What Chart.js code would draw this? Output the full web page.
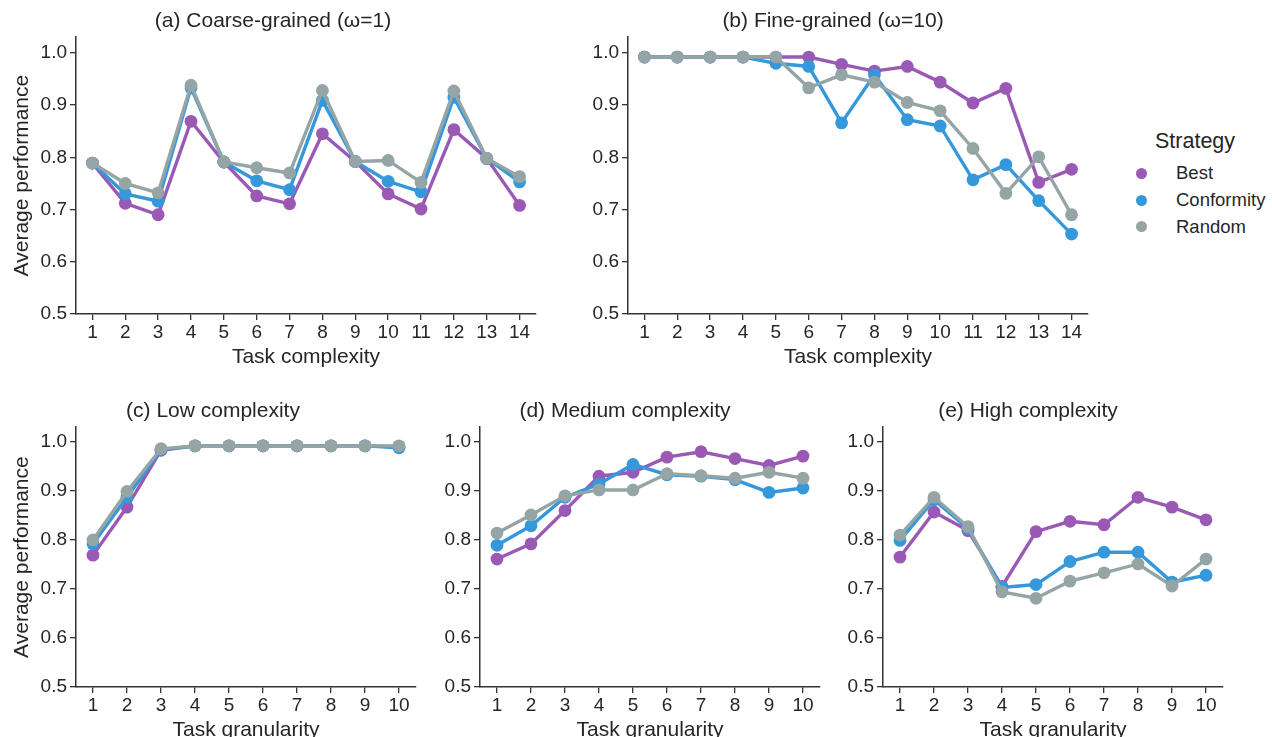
<!DOCTYPE html>
<html><head><meta charset="utf-8">
<script src="https://cdn.jsdelivr.net/npm/chart.js@4/dist/chart.umd.min.js"></script>
<style>
html,body{margin:0;padding:0;background:#fff;width:1272px;height:737px;overflow:hidden;font-family:"Liberation Sans",Arial,sans-serif;color:#262626;}
.pane{position:absolute;}
.lg{position:absolute;line-height:1;white-space:nowrap;}
.dot{position:absolute;width:11px;height:11px;border-radius:50%;}
</style></head><body>
<div id="legend">
  <div class="lg" style="left:1155px;top:131px;font-size:21.5px;">Strategy</div>
  <div class="dot" style="left:1136px;top:168px;background:#9b59b6"></div>
  <div class="lg" style="left:1176px;top:164px;font-size:18.5px;">Best</div>
  <div class="dot" style="left:1136px;top:194.5px;background:#3498db"></div>
  <div class="lg" style="left:1176px;top:191px;font-size:18.5px;">Conformity</div>
  <div class="dot" style="left:1136px;top:221px;background:#95a5a6"></div>
  <div class="lg" style="left:1176px;top:217.5px;font-size:18.5px;">Random</div>
</div>
<script>
const complexityLabels = [1,2,3,4,5,6,7,8,9,10,11,12,13,14];
const granularityLabels = [1,2,3,4,5,6,7,8,9,10];
const yTicks = [0.5,0.6,0.7,0.8,0.9,1.0];
const strategies = ['Best','Conformity','Random'];
const strategyColors = ['#9b59b6','#3498db','#95a5a6'];

const coarseBest       = [0.789,0.712,0.690,0.869,0.791,0.726,0.711,0.845,0.792,0.730,0.701,0.853,0.798,0.708];
const coarseConformity = [0.789,0.730,0.716,0.933,0.791,0.755,0.738,0.909,0.792,0.754,0.734,0.915,0.798,0.753];
const coarseRandom     = [0.789,0.750,0.732,0.938,0.791,0.780,0.770,0.928,0.792,0.794,0.752,0.927,0.798,0.763];

const fineBest       = [0.992,0.992,0.992,0.992,0.992,0.992,0.978,0.965,0.974,0.944,0.904,0.932,0.752,0.777];
const fineConformity = [0.992,0.992,0.992,0.992,0.980,0.974,0.866,0.958,0.872,0.860,0.757,0.786,0.717,0.653];
const fineRandom     = [0.992,0.992,0.992,0.992,0.992,0.933,0.958,0.944,0.905,0.889,0.817,0.731,0.801,0.690];

const lowBest       = [0.769,0.867,0.983,0.992,0.992,0.992,0.992,0.992,0.992,0.990];
const lowConformity = [0.792,0.887,0.984,0.992,0.992,0.992,0.992,0.992,0.992,0.988];
const lowRandom     = [0.800,0.899,0.986,0.992,0.992,0.992,0.992,0.992,0.992,0.992];

const medBest       = [0.761,0.792,0.860,0.930,0.938,0.969,0.980,0.966,0.952,0.971];
const medConformity = [0.789,0.829,0.887,0.914,0.954,0.933,0.930,0.923,0.897,0.906];
const medRandom     = [0.814,0.851,0.890,0.902,0.902,0.935,0.931,0.926,0.938,0.926];

const highBest       = [0.765,0.857,0.819,0.705,0.817,0.838,0.831,0.887,0.867,0.841];
const highConformity = [0.799,0.882,0.823,0.703,0.709,0.756,0.775,0.775,0.714,0.728];
const highRandom     = [0.810,0.887,0.827,0.694,0.681,0.716,0.733,0.751,0.706,0.761];

const FONT = "'Liberation Sans', Arial, sans-serif";
const TXT = '#262626';
const AX = '#333333';
Chart.defaults.font.family = FONT;
Chart.defaults.color = TXT;

function makePanel(box, xs, series, title, xTitle, showYTitle) {
  const padL = showYTitle ? 10 : 0;
  const yW = showYTitle ? 66 : 50;
  const padR = 8, titleH = 37, xH = 56;
  const cl = box.l - yW - padL, ct = box.t - titleH;
  const w = Math.round(box.r + padR - cl), h = Math.round(box.b + xH - ct);
  const div = document.createElement('div');
  div.className = 'pane';
  div.style.left = cl + 'px'; div.style.top = ct + 'px';
  div.style.width = w + 'px'; div.style.height = h + 'px';
  const cv = document.createElement('canvas');
  cv.width = w; cv.height = h;
  cv.style.width = w + 'px'; cv.style.height = h + 'px';
  div.appendChild(cv);
  document.body.appendChild(div);
  const datasets = series.map((vals, si) => ({
    label: strategies[si],
    data: xs.map((x, i) => ({x: x, y: vals[i]})),
    borderColor: strategyColors[si],
    backgroundColor: strategyColors[si],
    pointBackgroundColor: strategyColors[si],
    borderWidth: 3.4,
    pointRadius: 6.4,
    pointHoverRadius: 6.4,
    pointBorderWidth: 0,
    tension: 0,
    order: 3 - si,
    clip: false
  }));
  new Chart(cv, {
    type: 'line',
    data: {datasets},
    options: {
      responsive: false,
      animation: false,
      events: [],
      layout: {padding: {left: padL, right: padR, top: 0, bottom: 0}},
      plugins: {
        legend: {display: false},
        tooltip: {enabled: false},
        title: {display: true, text: title, color: TXT,
          font: {size: 21, weight: 'normal', family: FONT},
          padding: {top: 9, bottom: 3}}
      },
      scales: {
        x: {
          type: 'linear', min: 0.5, max: xs.length + 0.5,
          afterBuildTicks: ax => { ax.ticks = xs.map(v => ({value: v})); },
          afterFit: ax => { ax.height = xH; },
          grid: {display: true, drawOnChartArea: false, drawTicks: true, tickLength: 6, color: AX, lineWidth: 1.3},
          border: {display: true, color: AX, width: 1.5},
          ticks: {padding: 1, font: {size: 19}, color: TXT, maxRotation: 0, autoSkip: false, callback: v => String(v)},
          title: {display: true, text: xTitle, color: TXT, font: {size: 21}, padding: {top: 0, bottom: 0}}
        },
        y: {
          type: 'linear', min: 0.5, max: 1.03,
          afterBuildTicks: ax => { ax.ticks = yTicks.map(v => ({value: v})); },
          afterFit: ax => { ax.width = yW; },
          grid: {display: true, drawOnChartArea: false, drawTicks: true, tickLength: 6, color: AX, lineWidth: 1.3},
          border: {display: true, color: AX, width: 1.5},
          ticks: {padding: 3, font: {size: 19}, color: TXT, autoSkip: false, callback: v => Number(v).toFixed(1)},
          title: {display: showYTitle, text: 'Average performance', color: TXT, font: {size: 21}, padding: {top: 0, bottom: 0}}
        }
      }
    }
  });
}

makePanel({l: 76, r: 536, t: 37, b: 314}, complexityLabels, [coarseBest, coarseConformity, coarseRandom], '(a) Coarse-grained (ω=1)', 'Task complexity', true);
makePanel({l: 628, r: 1088, t: 37, b: 314}, complexityLabels, [fineBest, fineConformity, fineRandom], '(b) Fine-grained (ω=10)', 'Task complexity', false);
makePanel({l: 76, r: 416, t: 427, b: 687}, granularityLabels, [lowBest, lowConformity, lowRandom], '(c) Low complexity', 'Task granularity', true);
makePanel({l: 480, r: 820, t: 427, b: 687}, granularityLabels, [medBest, medConformity, medRandom], '(d) Medium complexity', 'Task granularity', false);
makePanel({l: 883, r: 1223, t: 427, b: 687}, granularityLabels, [highBest, highConformity, highRandom], '(e) High complexity', 'Task granularity', false);
</script>
</body></html>
